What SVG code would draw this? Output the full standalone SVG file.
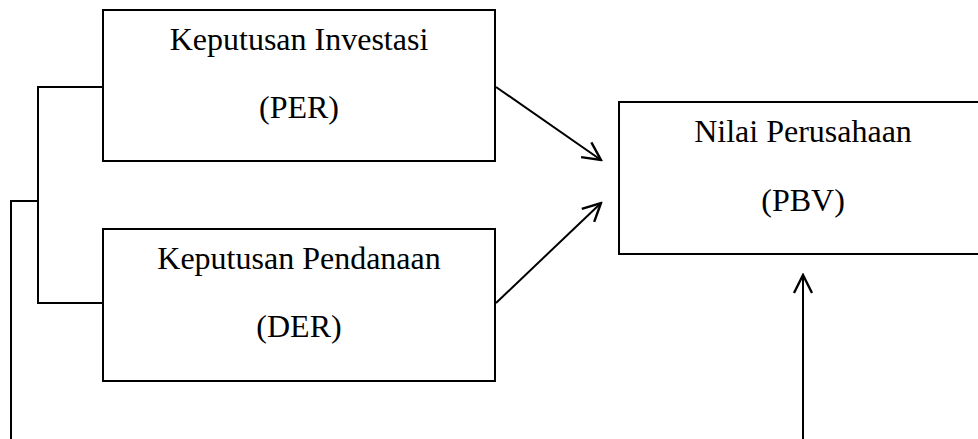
<svg xmlns="http://www.w3.org/2000/svg" width="978" height="439" viewBox="0 0 978 439">
<defs>
<style>
.box{fill:#fff;stroke:#000;stroke-width:2}
.ln{fill:none;stroke:#000;stroke-width:2}
text{font-family:"Liberation Serif","Times New Roman",serif;font-size:32px;fill:#000;text-anchor:middle}
</style>
<marker id="arr" viewBox="0 0 22 22" refX="20" refY="11" markerWidth="22" markerHeight="22" markerUnits="userSpaceOnUse" orient="auto">
<path d="M2,2 L20,11 L2,20" fill="none" stroke="#000" stroke-width="2.4"/>
</marker>
</defs>
<rect width="978" height="439" fill="#fff"/>
<g id="connectors">
<path class="ln" d="M103,87 H38 V303 H103"/>
<path class="ln" d="M38,201 H11 V439"/>
<path class="ln" d="M496,87 L601,160" marker-end="url(#arr)"/>
<path class="ln" d="M496,303 L601,203" marker-end="url(#arr)"/>
<path class="ln" d="M803,439 V275" marker-end="url(#arr)"/>
</g>
<g id="node-per">
<rect class="box" x="103" y="10" width="392" height="151"/>
<text x="299" y="50">Keputusan Investasi</text>
<text x="299" y="118">(PER)</text>
</g>
<g id="node-der">
<rect class="box" x="103" y="229" width="392" height="152"/>
<text x="299" y="269">Keputusan Pendanaan</text>
<text x="299" y="337">(DER)</text>
</g>
<g id="node-pbv">
<rect class="box" x="619" y="102" width="370" height="152"/>
<text x="803" y="142">Nilai Perusahaan</text>
<text x="803" y="211">(PBV)</text>
</g>
</svg>
